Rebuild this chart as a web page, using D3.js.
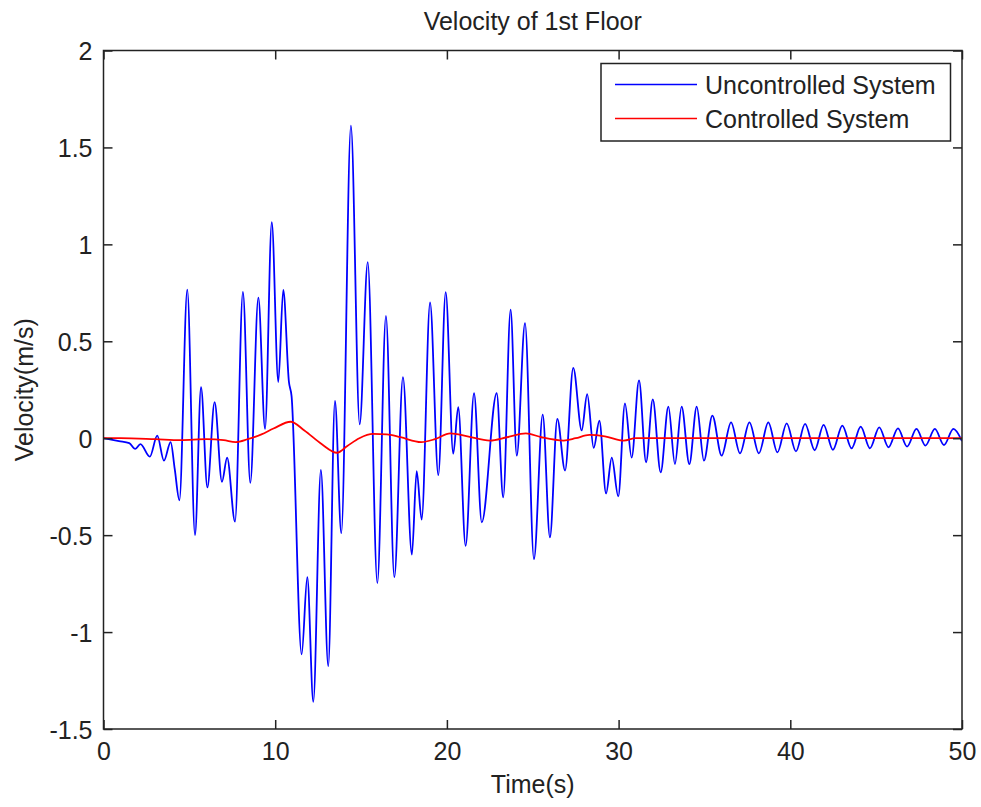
<!DOCTYPE html>
<html>
<head>
<meta charset="utf-8">
<script src="https://cdn.jsdelivr.net/npm/d3@7"></script>
<style>
  html, body { margin: 0; padding: 0; background: #fff; }
  svg { display: block; }
  text { font-family: "Liberation Sans", Arial, Helvetica, sans-serif; fill: #222; }
</style>
</head>
<body>
<svg id="chart" width="981" height="807"></svg>
<script>
// Velocity response of the 1st floor (turning points of each trace, seconds / m/s)
const uncontrolledTime = [
  0, 0.9, 1.5, 1.85, 2.15, 2.7, 3.13, 3.52, 3.91, 4.15, 4.42, 4.88, 5.33, 5.68, 6.05, 6.47,
  6.9, 7.2, 7.66, 8.12, 8.55, 9.02, 9.41, 9.8, 10.18, 10.47, 10.8, 10.95, 11.54, 11.87,
  12.22, 12.66, 13.09, 13.48, 13.85, 14.41, 14.92, 15.39, 15.95, 16.45, 16.94, 17.44,
  17.96, 18.24, 18.53, 19.02, 19.5, 19.93, 20.37, 20.66, 21.09, 21.58, 22.03, 22.9,
  23.28, 23.71, 24.07, 24.55, 25.07, 25.58, 26.0, 26.43, 26.88, 27.36, 27.85, 28.17,
  28.55, 28.88, 29.27, 29.6, 29.98, 30.37, 30.76, 31.19, 31.6, 31.99, 32.45, 32.9,
  33.28, 33.67, 34.12, 34.55, 34.97, 35.46, 36.0, 36.55, 37.07, 37.62, 38.17, 38.72,
  39.25, 39.79, 40.33, 40.86, 41.42, 41.94, 42.48, 43.03, 43.57, 44.1, 44.64, 45.18,
  45.72, 46.27, 46.8, 47.35, 47.87, 48.42, 48.95, 49.5, 50
];
const uncontrolledVelocity = [
  0, -0.015, -0.025, -0.055, -0.03, -0.095, 0.013, -0.116, -0.02, -0.16, -0.32, 0.766, -0.5, 0.263, -0.254, 0.186,
  -0.225, -0.1, -0.43, 0.755, -0.23, 0.725, 0.048, 1.115, 0.29, 0.765, 0.29, 0.22, -1.115, -0.717,
  -1.36, -0.163, -1.176, 0.193, -0.49, 1.612, 0.072, 0.908, -0.747, 0.631, -0.717, 0.315,
  -0.6, -0.17, -0.42, 0.70, -0.19, 0.754, -0.08, 0.16, -0.555, 0.232, -0.434, 0.232,
  -0.305, 0.663, -0.09, 0.594, -0.624, 0.122, -0.512, 0.1, -0.167, 0.363, 0.04, 0.227,
  -0.05, 0.09, -0.285, -0.1, -0.30, 0.18, -0.1, 0.298, -0.124, 0.2, -0.176, 0.163,
  -0.133, 0.163, -0.133, 0.163, -0.116, 0.117, -0.09, 0.082, -0.078, 0.082, -0.078, 0.082,
  -0.073, 0.077, -0.068, 0.074, -0.062, 0.069, -0.06, 0.065, -0.052, 0.06, -0.052, 0.056,
  -0.047, 0.051, -0.043, 0.048, -0.038, 0.048, -0.035, 0.048, -0.015
];

const controlledTime = [
  0, 1, 3, 4.5, 6, 7, 7.7, 8.4, 9.2, 9.9, 10.9, 11.7, 12.7, 13.6, 14.2, 14.9, 15.7, 16.5,
  17.3, 18.5, 19.3, 20.2, 21.2, 22.5, 23.5, 24.6, 25.5, 26.8, 27.5, 28.3, 29.2, 30.3, 31, 32, 50
];
const controlledVelocity = [
  0, 0, -0.005, -0.01, -0.005, -0.01, -0.02, -0.005, 0.02, 0.05, 0.085, 0.04, -0.03, -0.075, -0.04, 0.0, 0.022, 0.02,
  0.005, -0.02, -0.005, 0.025, 0.01, -0.012, 0.005, 0.025, 0.005, -0.012, 0.0, 0.017, 0.01, -0.012, 0, 0, 0
];

const xTicks = [0, 10, 20, 30, 40, 50];
const yTicks = [-1.5, -1, -0.5, 0, 0.5, 1, 1.5, 2];
const seriesNames = ["Uncontrolled System", "Controlled System"];
const seriesColors = ["#0000ff", "#ff0000"];

const svg = d3.select("#chart");
const margin = { left: 103.5, right: 19, top: 50.5, bottom: 78 };
const W = 981, H = 807;
const x = d3.scaleLinear().domain([0, 50]).range([margin.left, W - margin.right]);
const y = d3.scaleLinear().domain([-1.5, 2]).range([H - margin.bottom, margin.top]);

const fontSize = 25;
const axisColor = "#222";
const lineWidth = 1.8;

svg.append("defs").append("clipPath").attr("id", "plotClip")
  .append("rect")
  .attr("x", x(0)).attr("y", y(2))
  .attr("width", x(50) - x(0)).attr("height", y(-1.5) - y(2));

const line = d3.line()
  .x(d => x(d[0]))
  .y(d => y(d[1]))
  .curve(d3.curveMonotoneX);

const uncontrolled = uncontrolledTime.map((t, i) => [t, uncontrolledVelocity[i]]);
const controlled = controlledTime.map((t, i) => [t, controlledVelocity[i]]);

const plot = svg.append("g").attr("clip-path", "url(#plotClip)");
plot.append("path").datum(uncontrolled)
  .attr("d", line).attr("fill", "none")
  .attr("stroke", seriesColors[0]).attr("stroke-width", lineWidth).attr("stroke-linejoin", "round");
plot.append("path").datum(controlled)
  .attr("d", line).attr("fill", "none")
  .attr("stroke", seriesColors[1]).attr("stroke-width", lineWidth).attr("stroke-linejoin", "round");

// Axes with inward ticks on all four sides
const tickLen = 9;
const plainNumber = d => String(d);
function styleAxis(g) {
  g.select(".domain").remove();
  g.selectAll(".tick line").attr("stroke", axisColor).attr("stroke-width", 1.5);
}
const xBottom = svg.append("g").attr("transform", `translate(0,${y(-1.5)})`)
  .call(d3.axisBottom(x).tickValues(xTicks).tickSize(-tickLen).tickFormat(plainNumber));
styleAxis(xBottom);
xBottom.selectAll(".tick text")
  .attr("y", 31).attr("dy", null)
  .attr("font-size", fontSize).attr("font-family", null).attr("fill", axisColor);

const xTop = svg.append("g").attr("transform", `translate(0,${y(2)})`)
  .call(d3.axisTop(x).tickValues(xTicks).tickSize(-tickLen).tickFormat(""));
styleAxis(xTop);

const yLeft = svg.append("g").attr("transform", `translate(${x(0)},0)`)
  .call(d3.axisLeft(y).tickValues(yTicks).tickSize(-tickLen).tickFormat(plainNumber));
styleAxis(yLeft);
yLeft.selectAll(".tick text")
  .attr("x", -11).attr("dy", "0.36em")
  .attr("font-size", fontSize).attr("font-family", null).attr("fill", axisColor);

const yRight = svg.append("g").attr("transform", `translate(${x(50)},0)`)
  .call(d3.axisRight(y).tickValues(yTicks).tickSize(-tickLen).tickFormat(""));
styleAxis(yRight);

// Plot box
svg.append("rect")
  .attr("x", x(0)).attr("y", y(2))
  .attr("width", x(50) - x(0)).attr("height", y(-1.5) - y(2))
  .attr("fill", "none").attr("stroke", axisColor).attr("stroke-width", 1.5);

// Title and axis labels
svg.append("text")
  .attr("x", (x(0) + x(50)) / 2).attr("y", 30)
  .attr("text-anchor", "middle").attr("font-size", fontSize)
  .text("Velocity of 1st Floor");

svg.append("text")
  .attr("x", (x(0) + x(50)) / 2).attr("y", 793)
  .attr("text-anchor", "middle").attr("font-size", fontSize)
  .text("Time(s)");

svg.append("text")
  .attr("transform", `translate(33,${(y(2) + y(-1.5)) / 2}) rotate(-90)`)
  .attr("text-anchor", "middle").attr("font-size", fontSize)
  .text("Velocity(m/s)");

// Legend
const legend = svg.append("g");
legend.append("rect")
  .attr("x", 601).attr("y", 63.5).attr("width", 349.5).attr("height", 77.5)
  .attr("fill", "#fff").attr("stroke", axisColor).attr("stroke-width", 1.5);
seriesNames.forEach((name, i) => {
  const cy = 84.5 + i * 34;
  legend.append("line")
    .attr("x1", 615).attr("x2", 697).attr("y1", cy).attr("y2", cy)
    .attr("stroke", seriesColors[i]).attr("stroke-width", 1.5);
  legend.append("text")
    .attr("x", 705).attr("y", cy + 9.5)
    .attr("font-size", fontSize)
    .text(name);
});
</script>
</body>
</html>
